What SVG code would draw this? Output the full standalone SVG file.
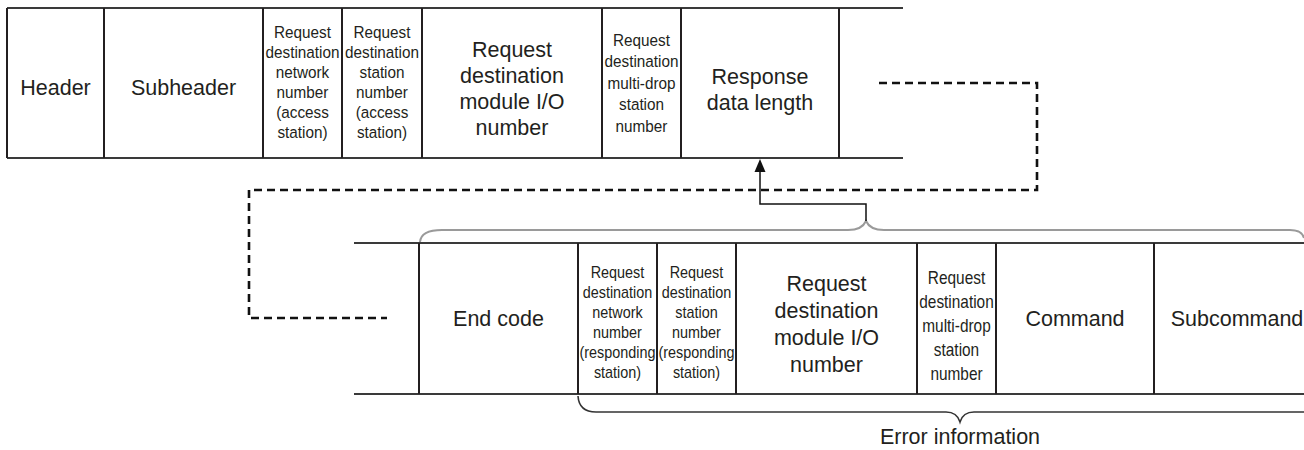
<svg xmlns="http://www.w3.org/2000/svg" width="1304" height="450" viewBox="0 0 1304 450">
<style>
text{font-family:"Liberation Sans",Arial,sans-serif;fill:#231f20;text-anchor:middle}
.L{font-size:21.5px}
.S{font-size:17px}
.S2{font-size:16px}
.S3{font-size:17.5px}
.h{stroke:#3a3a3a;stroke-width:2;fill:none}
.v{stroke:#231f20;stroke-width:2;fill:none}
.dash{stroke:#111;stroke-width:2.6;fill:none;stroke-dasharray:8 5}
.brace1{stroke:#9a9a9a;stroke-width:2;fill:none}
.brace2{stroke:#333;stroke-width:1.6;fill:none}
.arr{stroke:#111;stroke-width:1.5;fill:none}
</style>
<rect width="1304" height="450" fill="#fff"/>
<g id="top-row">
  <line class="h" x1="7" y1="8" x2="903" y2="8"/>
  <line class="h" x1="7" y1="158" x2="903" y2="158"/>
  <line class="v" x1="7" y1="8" x2="7" y2="158"/>
  <line class="v" x1="104" y1="8" x2="104" y2="158"/>
  <line class="v" x1="263" y1="8" x2="263" y2="158"/>
  <line class="v" x1="342" y1="8" x2="342" y2="158"/>
  <line class="v" x1="422" y1="8" x2="422" y2="158"/>
  <line class="v" x1="602" y1="8" x2="602" y2="158"/>
  <line class="v" x1="681" y1="8" x2="681" y2="158"/>
  <line class="v" x1="839" y1="8" x2="839" y2="158"/>
</g>
<g id="t-header"><text class="L" x="55.5" y="95">Header</text></g>
<g id="t-subheader"><text class="L" x="183.5" y="95">Subheader</text></g>
<g id="t-network" transform="translate(302.5 0) scale(0.9 1)"><text class="S"><tspan x="0" y="38">Request</tspan><tspan x="0" y="58">destination</tspan><tspan x="0" y="78">network</tspan><tspan x="0" y="98">number</tspan><tspan x="0" y="118">(access</tspan><tspan x="0" y="138">station)</tspan></text></g>
<g id="t-station" transform="translate(382 0) scale(0.9 1)"><text class="S"><tspan x="0" y="38">Request</tspan><tspan x="0" y="58">destination</tspan><tspan x="0" y="78">station</tspan><tspan x="0" y="98">number</tspan><tspan x="0" y="118">(access</tspan><tspan x="0" y="138">station)</tspan></text></g>
<g id="t-module"><text class="L"><tspan x="512" y="57">Request</tspan><tspan x="512" y="83">destination</tspan><tspan x="512" y="109">module I/O</tspan><tspan x="512" y="135">number</tspan></text></g>
<g id="t-multidrop" transform="translate(641.5 0) scale(0.9 1)"><text class="S"><tspan x="0" y="46">Request</tspan><tspan x="0" y="67.5">destination</tspan><tspan x="0" y="89">multi-drop</tspan><tspan x="0" y="110.5">station</tspan><tspan x="0" y="132">number</tspan></text></g>
<g id="t-resplen"><text class="L"><tspan x="760" y="84">Response</tspan><tspan x="760" y="110">data length</tspan></text></g>

<g id="bottom-row">
  <line class="h" x1="354" y1="243" x2="1304" y2="243"/>
  <line class="h" x1="354" y1="394" x2="1304" y2="394"/>
  <line class="v" x1="419" y1="243" x2="419" y2="394"/>
  <line class="v" x1="578" y1="243" x2="578" y2="394"/>
  <line class="v" x1="657" y1="243" x2="657" y2="394"/>
  <line class="v" x1="736" y1="243" x2="736" y2="394"/>
  <line class="v" x1="917" y1="243" x2="917" y2="394"/>
  <line class="v" x1="996" y1="243" x2="996" y2="394"/>
  <line class="v" x1="1154" y1="243" x2="1154" y2="394"/>
</g>
<g id="b-endcode"><text class="L" x="498.5" y="326">End code</text></g>
<g id="b-network" transform="translate(617.5 0) scale(0.9 1)"><text class="S2"><tspan x="0" y="278">Request</tspan><tspan x="0" y="298">destination</tspan><tspan x="0" y="318">network</tspan><tspan x="0" y="338">number</tspan><tspan x="0" y="358">(responding</tspan><tspan x="0" y="378">station)</tspan></text></g>
<g id="b-station" transform="translate(696.5 0) scale(0.9 1)"><text class="S2"><tspan x="0" y="278">Request</tspan><tspan x="0" y="298">destination</tspan><tspan x="0" y="318">station</tspan><tspan x="0" y="338">number</tspan><tspan x="0" y="358">(responding</tspan><tspan x="0" y="378">station)</tspan></text></g>
<g id="b-module"><text class="L"><tspan x="826.5" y="291">Request</tspan><tspan x="826.5" y="318">destination</tspan><tspan x="826.5" y="345">module I/O</tspan><tspan x="826.5" y="372">number</tspan></text></g>
<g id="b-multidrop" transform="translate(956.5 0) scale(0.88 1)"><text class="S3"><tspan x="0" y="284">Request</tspan><tspan x="0" y="308">destination</tspan><tspan x="0" y="332">multi-drop</tspan><tspan x="0" y="356">station</tspan><tspan x="0" y="380">number</tspan></text></g>
<g id="b-command"><text class="L" x="1075" y="326">Command</text></g>
<g id="b-subcommand"><text class="L" x="1237" y="326">Subcommand</text></g>
<g id="error-info"><text class="L" x="960" y="444">Error information</text></g>

<g id="connectors">
  <path class="dash" d="M879,83 H1037 V190 H249 V318 H387"/>
  <path class="brace1" d="M420,242 Q421,230 442,230 L848,230 Q862,230 866,221 Q870,230 884,230 L1290,230 Q1302,230 1304,238"/>
  <path class="brace2" d="M578,396 Q579,412 596,412 L946,412 Q957,412 960,422 Q963,412 974,412 L1304,412"/>
  <path class="arr" d="M866,221 V204 H760 V170"/>
  <polygon points="760,159 754.5,172 765.5,172" fill="#111"/>
</g>
</svg>
